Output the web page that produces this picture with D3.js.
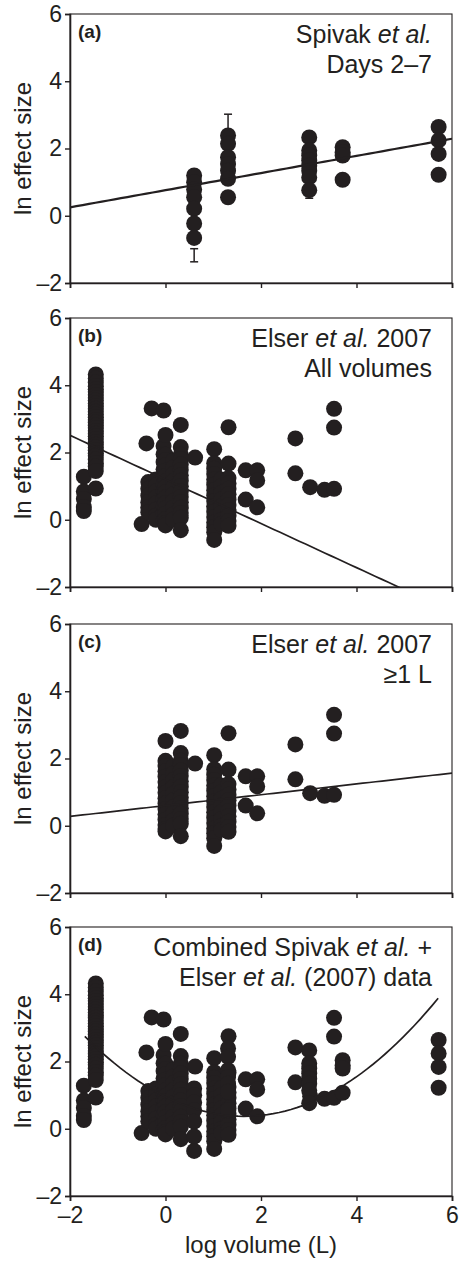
<!DOCTYPE html>
<html>
<head>
<meta charset="utf-8">
<script src="https://cdn.jsdelivr.net/npm/d3@7"></script>
<style>
  body { margin: 0; background: #fff; }
  svg text { font-family: "Liberation Sans", Arial, Helvetica, sans-serif; fill: #231f20; }
</style>
</head>
<body>
<div id="chart"></div>
<script>
'use strict';

// ---- data ----
var xTicks = [-2, 0, 2, 4, 6];
var yTicks = [-2, 0, 2, 4, 6];

// Spivak et al. (columns of points, log volume -> ln effect size)
var spivakX = [0.6, 1.31, 3.01, 3.71, 5.72];
var spivakY = [
  [1.2, 1.0, 0.78, 0.55, 0.21, -0.23, -0.66],
  [2.39, 2.14, 1.74, 1.54, 1.34, 1.1, 0.55],
  [2.33, 1.94, 1.79, 1.64, 1.49, 1.34, 1.14, 0.76],
  [2.04, 1.89, 1.79, 1.07],
  [2.64, 2.24, 1.84, 1.22]
];
// error bars: x, low, high
var spivakErr = [[0.6, -1.37, -0.98], [1.31, 2.39, 3.02], [3.01, 0.52, 1.07]];

// Elser et al. 2007
var elserX = [-1.71, -1.46, -0.5, -0.4, -0.36, -0.29, -0.2, -0.04, 0.0, 0.16, 0.32, 0.62,
  1.02, 1.17, 1.32, 1.68, 1.92, 2.72, 3.03, 3.33, 3.53];
var elserY = [
  [1.28, 0.84, 0.62, 0.38, 0.26],
  [4.32, 4.2, 4.08, 3.97, 3.88, 3.8, 3.71, 3.62, 3.55, 3.46, 3.38, 3.3, 3.21, 3.13, 3.05,
   2.97, 2.89, 2.8, 2.73, 2.64, 2.56, 2.48, 2.4, 2.31, 2.23, 2.15, 2.07, 1.98, 1.9, 1.79,
   1.68, 1.58, 1.45, 0.93],
  [-0.13],
  [2.27],
  [1.12, 0.92, 0.72, 0.52, 0.37, 0.22],
  [3.31],
  [1.2, 1.02, 0.84, 0.66, 0.48, 0.3, 0.12, 0.0],
  [3.25, 2.19, 1.95, 1.72, 1.5, 1.28, 1.06, 0.84, 0.62, 0.4, 0.18, -0.02],
  [2.52, 1.93, 1.78, 1.62, 1.46, 1.3, 1.14, 0.98, 0.82, 0.66, 0.5, 0.34, 0.18, 0.02, -0.1, -0.17],
  [1.75, 1.55, 1.35, 1.15, 0.95, 0.75, 0.55, 0.35, 0.15, 0.0],
  [2.82, 2.16, 1.93, 1.8, 1.64, 1.48, 1.32, 1.16, 1.0, 0.84, 0.68, 0.52, 0.36, 0.2, 0.06, -0.31],
  [1.85],
  [2.1, 1.68, 1.52, 1.36, 1.2, 1.04, 0.88, 0.72, 0.56, 0.4, 0.24, 0.08, -0.08, -0.22, -0.37, -0.6],
  [1.2, 1.0, 0.8, 0.6, 0.4, 0.2, 0.0, -0.12],
  [2.75, 1.67, 1.24, 1.08, 0.92, 0.76, 0.6, 0.44, 0.28, 0.12, -0.04, -0.18],
  [1.47, 0.6],
  [1.47, 1.17, 0.37],
  [2.42, 1.38],
  [0.97],
  [0.89],
  [3.3, 2.74, 0.92]
];

// fitted curves: polynomial coefficients [c0, c1, c2] and x extent
var fitA = [0.76, 0.255, 0];
var fitB = [1.2, -0.656, 0];
var fitC = [0.6, 0.161, 0];
var fitD = [0.95, -0.703, 0.213];
var fitExtent = [[-2, 6], [-2, 6], [-2, 6], [-1.69, 5.71]];

var panelLetters = ['(a)', '(b)', '(c)', '(d)'];
// annotation lines: segments [text, italic]
var panelNotes = [
  [[['Spivak ', false], ['et al.', true]], [['Days 2–7', false]]],
  [[['Elser ', false], ['et al.', true], [' 2007', false]], [['All volumes', false]]],
  [[['Elser ', false], ['et al.', true], [' 2007', false]], [['≥1 L', false]]],
  [[['Combined Spivak ', false], ['et al.', true], [' +', false]],
   [['Elser ', false], ['et al.', true], [' (2007) data', false]]]
];

// ---- flatten ----
function flatten(xs, ys) {
  var out = [];
  xs.forEach(function (x, i) { ys[i].forEach(function (y) { out.push({ x: x, y: y }); }); });
  return out;
}
var spivakPts = flatten(spivakX, spivakY);
var elserPts = flatten(elserX, elserY);
var panelPts = [
  spivakPts,
  elserPts,
  elserPts.filter(function (d) { return d.x >= 0; }),
  elserPts.concat(spivakPts)
];
var panelFits = [fitA, fitB, fitC, fitD];

// ---- layout ----
var W = 459, H = 1261;
var left = 70, right = 452, ph = 269;
var tops = [14, 318, 624, 927];
var ink = '#231f20';

var svg = d3.select('#chart').append('svg')
  .attr('width', W).attr('height', H);

var x = d3.scaleLinear().domain([-2, 6]).range([left, right]);

function fmt(d) { return d < 0 ? '–' + Math.abs(d) : String(d); }

tops.forEach(function (top, p) {
  var y = d3.scaleLinear().domain([-2, 6]).range([top + ph, top]);
  var g = svg.append('g').attr('class', 'panel');

  var clipId = 'clip' + p;
  g.append('clipPath').attr('id', clipId)
    .append('rect').attr('x', left).attr('y', top).attr('width', right - left).attr('height', ph);

  // frame
  g.append('rect')
    .attr('x', left).attr('y', top).attr('width', right - left).attr('height', ph)
    .attr('fill', 'none').attr('stroke', ink).attr('stroke-width', 1.1);

  // y axis
  var ya = g.append('g').attr('transform', 'translate(' + left + ',0)')
    .call(d3.axisLeft(y).tickValues(yTicks).tickSize(5).tickPadding(3).tickFormat(fmt));
  ya.select('.domain').attr('stroke', ink).attr('stroke-width', 1.6);
  ya.selectAll('.tick line').attr('stroke', ink).attr('stroke-width', 1.4);
  ya.selectAll('.tick text').attr('font-size', 23).attr('fill', ink)
    .attr('font-family', '"Liberation Sans", Arial, sans-serif');

  // x axis
  var xa = g.append('g').attr('transform', 'translate(0,' + (top + ph) + ')')
    .call(d3.axisBottom(x).tickValues(xTicks).tickSize(5).tickPadding(6)
      .tickFormat(p === 3 ? fmt : function () { return ''; }));
  xa.select('.domain').attr('stroke', ink).attr('stroke-width', 1.6);
  xa.selectAll('.tick line').attr('stroke', ink).attr('stroke-width', 1.4);
  xa.selectAll('.tick text').attr('font-size', 23).attr('fill', ink)
    .attr('font-family', '"Liberation Sans", Arial, sans-serif');

  // y label
  g.append('text')
    .attr('transform', 'translate(31,' + (top + ph / 2) + ') rotate(-90)')
    .attr('text-anchor', 'middle')
    .attr('font-size', 24)
    .text('ln effect size');

  var plot = g.append('g').attr('clip-path', 'url(#' + clipId + ')');

  // error bars (Spivak only)
  if (p === 0) {
    var eb = plot.selectAll('g.err').data(spivakErr).enter().append('g').attr('class', 'err');
    eb.append('line')
      .attr('x1', function (d) { return x(d[0]); }).attr('x2', function (d) { return x(d[0]); })
      .attr('y1', function (d) { return y(d[1]); }).attr('y2', function (d) { return y(d[2]); })
      .attr('stroke', ink).attr('stroke-width', 1.5);
    [1, 2].forEach(function (k) {
      eb.append('line')
        .attr('x1', function (d) { return x(d[0]) - 4; }).attr('x2', function (d) { return x(d[0]) + 4; })
        .attr('y1', function (d) { return y(d[k]); }).attr('y2', function (d) { return y(d[k]); })
        .attr('stroke', ink).attr('stroke-width', 1.5);
    });
  }

  // points
  plot.selectAll('circle').data(panelPts[p]).enter().append('circle')
    .attr('cx', function (d) { return x(d.x); })
    .attr('cy', function (d) { return y(d.y); })
    .attr('r', 8)
    .attr('fill', ink);

  // fitted line / curve
  var c = panelFits[p], ext = fitExtent[p];
  var xs = d3.range(0, 61).map(function (i) { return ext[0] + (ext[1] - ext[0]) * i / 60; });
  var line = d3.line()
    .x(function (v) { return x(v); })
    .y(function (v) { return y(c[0] + c[1] * v + c[2] * v * v); });
  plot.append('path').datum(xs)
    .attr('d', line)
    .attr('fill', 'none').attr('stroke', ink)
    .attr('stroke-width', p === 0 ? 2.2 : 1.7);

  // panel letter
  g.append('text')
    .attr('x', left + 8).attr('y', top + 24)
    .attr('font-size', 19).attr('font-weight', 'bold')
    .text(panelLetters[p]);

  // annotation, right aligned
  panelNotes[p].forEach(function (segs, li) {
    var t = g.append('text')
      .attr('x', right - 20).attr('y', top + 29 + li * 30)
      .attr('text-anchor', 'end')
      .attr('font-size', 25);
    segs.forEach(function (s) {
      t.append('tspan').attr('font-style', s[1] ? 'italic' : 'normal').text(s[0]);
    });
  });
});

// x axis title
svg.append('text')
  .attr('x', (left + right) / 2).attr('y', 1253)
  .attr('text-anchor', 'middle')
  .attr('font-size', 24)
  .text('log volume (L)');
</script>
</body>
</html>
